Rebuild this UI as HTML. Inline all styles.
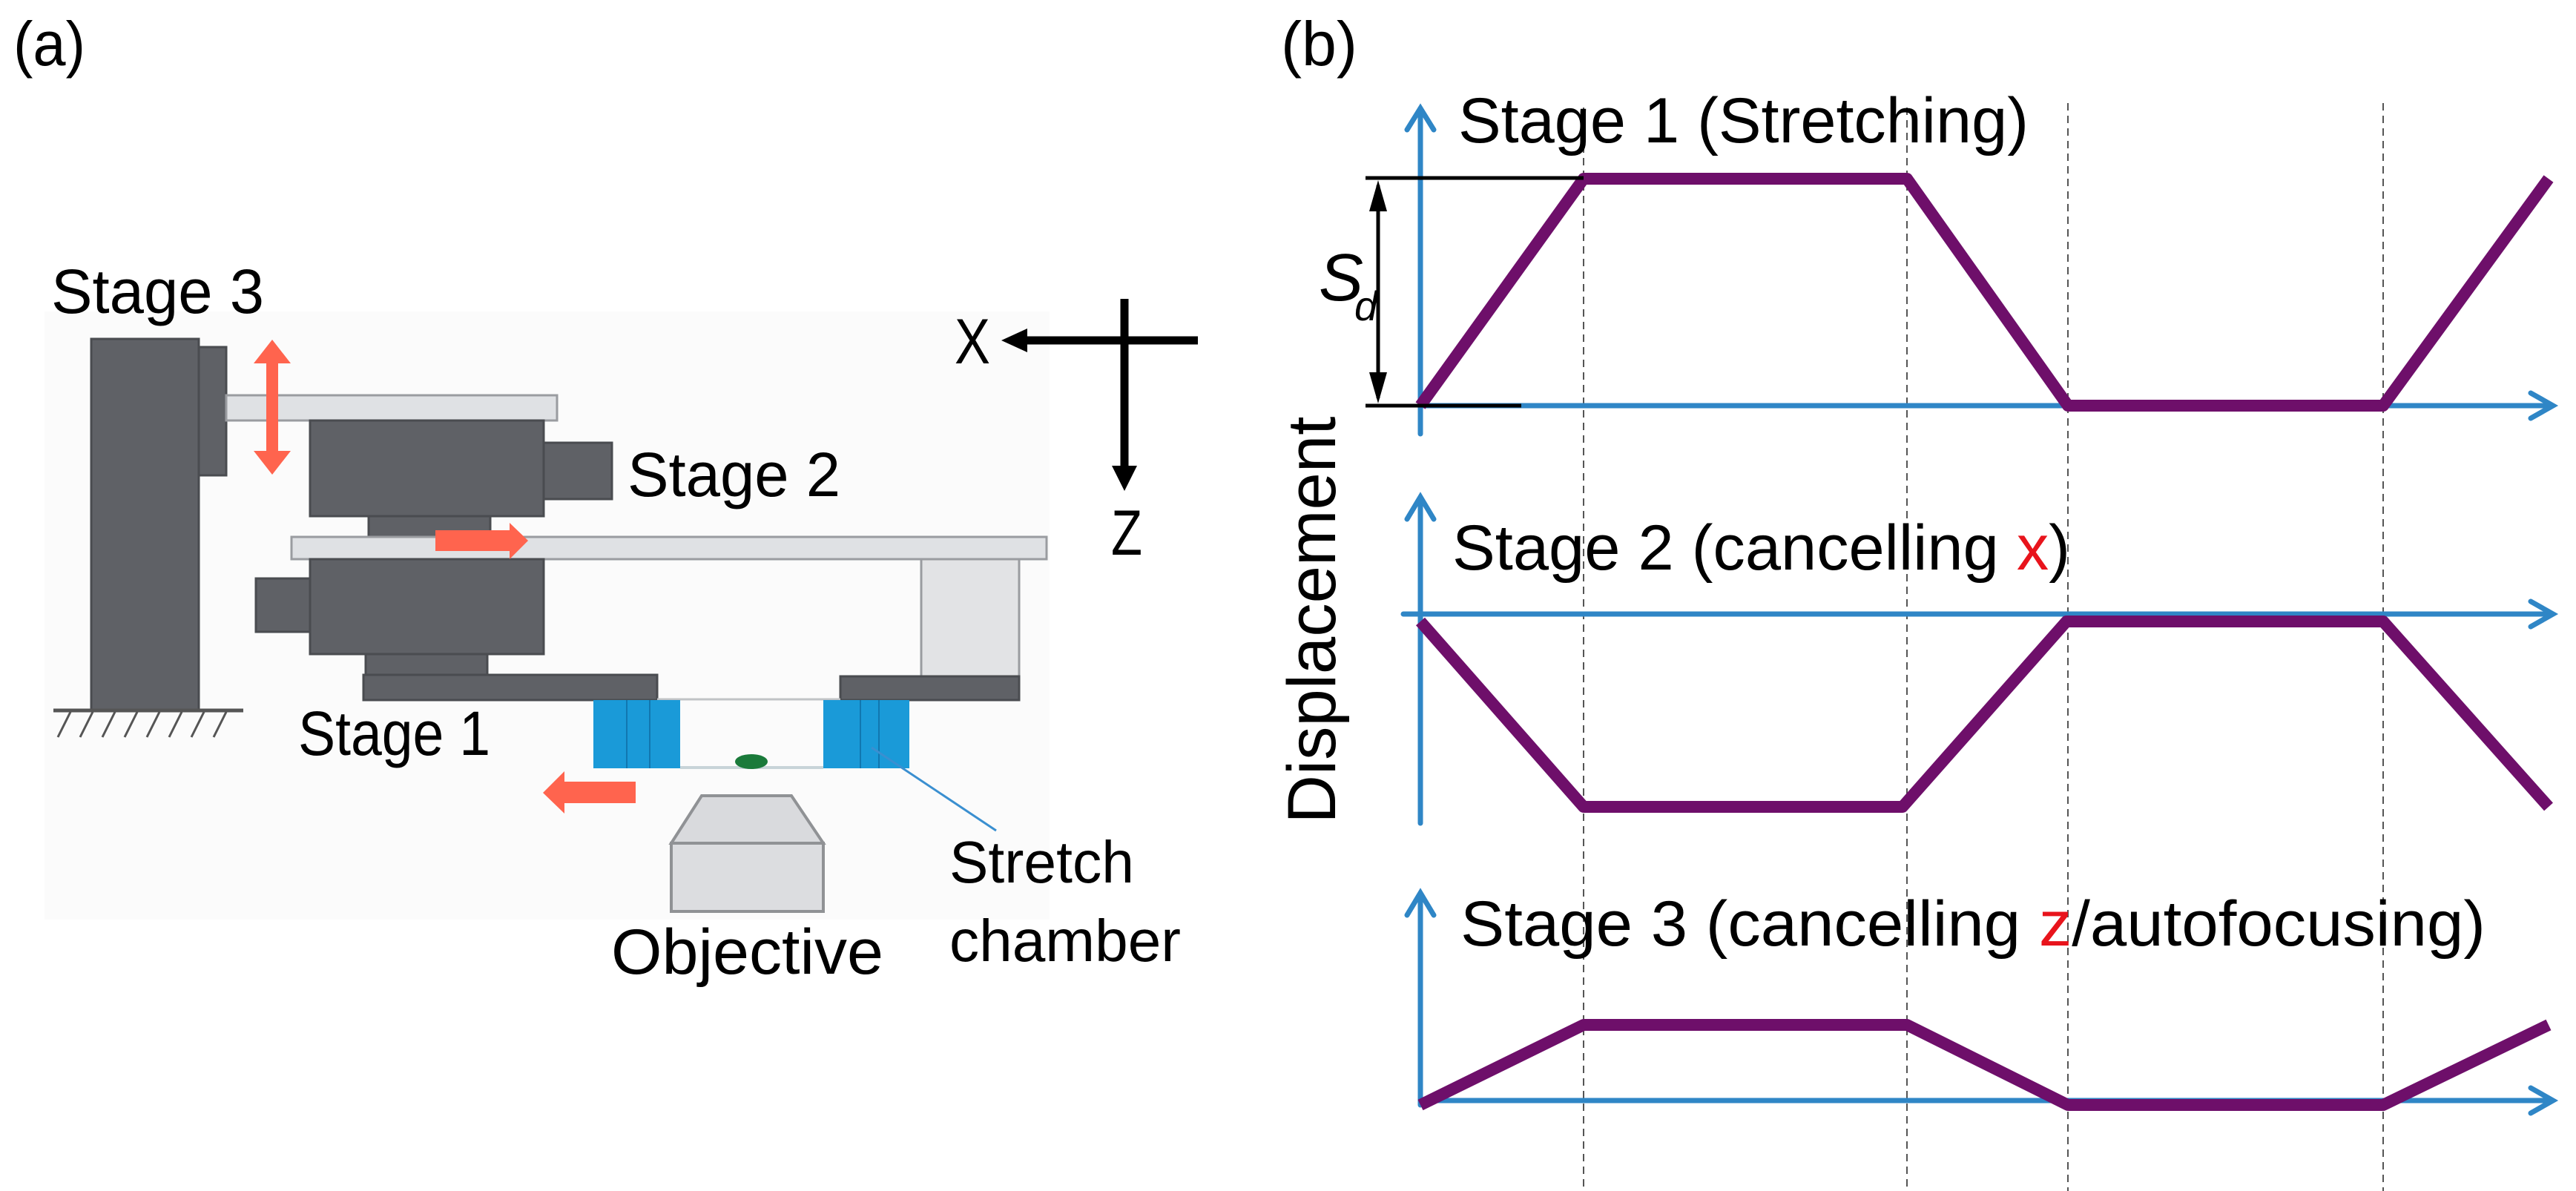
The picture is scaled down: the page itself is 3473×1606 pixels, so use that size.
<!DOCTYPE html>
<html><head><meta charset="utf-8"><style>html,body{margin:0;padding:0;background:#fff}svg{display:block}</style></head>
<body>
<svg width="3473" height="1606" viewBox="0 0 3473 1606" xmlns="http://www.w3.org/2000/svg" font-family="'Liberation Sans', sans-serif">
<rect width="3473" height="1606" fill="#fff"/>
<!-- faint background of panel a -->
<rect x="60" y="420" width="1355" height="820" fill="#fbfbfb"/>
<!-- labels a, b -->
<text x="18" y="88" font-size="84" textLength="97" lengthAdjust="spacingAndGlyphs">(a)</text>
<text x="1727" y="88" font-size="84" textLength="103" lengthAdjust="spacingAndGlyphs">(b)</text>

<!-- Panel a mechanism -->
<g stroke="#4a4c50" stroke-width="3">
<rect x="123" y="457" width="145" height="500" fill="#5f6166"/>
<rect x="268" y="468" width="37" height="173" fill="#5f6166"/>
<rect x="305" y="533" width="446" height="34" fill="#dfe1e4" stroke="#9a9ca0"/>
<rect x="418" y="567" width="315" height="129" fill="#5f6166"/>
<rect x="733" y="597" width="92" height="76" fill="#5f6166"/>
<rect x="497" y="696" width="164" height="28" fill="#5f6166"/>
<rect x="393" y="724" width="1018" height="30" fill="#dfe1e4" stroke="#9a9ca0"/>
<rect x="418" y="754" width="315" height="128" fill="#5f6166"/>
<rect x="345" y="780" width="73" height="72" fill="#5f6166"/>
<rect x="493" y="882" width="164" height="28" fill="#5f6166"/>
<rect x="490" y="910" width="396" height="34" fill="#5f6166"/>
<rect x="1242" y="754" width="132" height="158" fill="#e2e3e5" stroke="#9a9ca0"/>
<rect x="1133" y="912" width="241" height="32" fill="#5f6166"/>
</g>
<line x1="886" y1="943" x2="1133" y2="943" stroke="#c0c3c6" stroke-width="3"/>
<!-- ground -->
<line x1="72" y1="958" x2="328" y2="958" stroke="#555" stroke-width="5"/>
<g stroke="#555" stroke-width="3">
<line x1="95" y1="960" x2="78" y2="994"/><line x1="125" y1="960" x2="108" y2="994"/><line x1="155" y1="960" x2="138" y2="994"/><line x1="185" y1="960" x2="168" y2="994"/><line x1="215" y1="960" x2="198" y2="994"/><line x1="245" y1="960" x2="228" y2="994"/><line x1="275" y1="960" x2="258" y2="994"/><line x1="305" y1="960" x2="288" y2="994"/>
</g>
<!-- stretch chamber -->
<rect x="800" y="944" width="117" height="92" fill="#1a9ad8"/>
<rect x="1110" y="944" width="116" height="92" fill="#1a9ad8"/>
<g stroke="#1177b0" stroke-width="2"><line x1="845" y1="944" x2="845" y2="1036"/><line x1="876" y1="944" x2="876" y2="1036"/><line x1="1160" y1="944" x2="1160" y2="1036"/><line x1="1185" y1="944" x2="1185" y2="1036"/></g>
<line x1="917" y1="1035" x2="1110" y2="1035" stroke="#c8d4d8" stroke-width="4"/>
<ellipse cx="1013" cy="1027" rx="22" ry="10" fill="#1a7a3a"/>
<line x1="1175" y1="1008" x2="1343" y2="1120" stroke="#3a8fd0" stroke-width="3"/>
<!-- objective -->
<polygon points="946,1073 1067,1073 1110,1137 905,1137" fill="#d9dadd" stroke="#909295" stroke-width="4"/>
<rect x="905" y="1137" width="205" height="92" fill="#dcdde0" stroke="#909295" stroke-width="4"/>
<!-- red arrows -->
<g fill="#ff644e">
<polygon points="367,458 392,490 375,490 375,608 392,608 367,640 342,608 359,608 359,490 342,490"/>
<polygon points="587,715 687,715 687,705 712,729 687,754 687,743 587,743"/>
<polygon points="732,1069 761,1040 761,1054 857,1054 857,1083 761,1083 761,1097"/>
</g>
<!-- XZ axes -->
<line x1="1372" y1="459" x2="1615" y2="459" stroke="#000" stroke-width="11"/>
<polygon points="1350,459 1385,443 1385,475" fill="#000"/>
<line x1="1516" y1="403" x2="1516" y2="640" stroke="#000" stroke-width="11"/>
<polygon points="1516,662 1499,628 1533,628" fill="#000"/>
<text x="1287" y="490" font-size="86" textLength="48" lengthAdjust="spacingAndGlyphs">X</text>
<text x="1498" y="748" font-size="86" textLength="42" lengthAdjust="spacingAndGlyphs">Z</text>
<!-- panel a labels -->
<text x="69" y="422" font-size="84" textLength="287" lengthAdjust="spacingAndGlyphs">Stage 3</text>
<text x="846" y="669" font-size="84" textLength="287" lengthAdjust="spacingAndGlyphs">Stage 2</text>
<text x="402" y="1018" font-size="84" textLength="259" lengthAdjust="spacingAndGlyphs">Stage 1</text>
<text x="824" y="1313" font-size="86" textLength="367" lengthAdjust="spacingAndGlyphs">Objective</text>
<text x="1280" y="1190" font-size="80" textLength="249" lengthAdjust="spacingAndGlyphs">Stretch</text>
<text x="1280" y="1296" font-size="80" textLength="312" lengthAdjust="spacingAndGlyphs">chamber</text>

<!-- Panel b -->
<g stroke="#555" stroke-width="2" stroke-dasharray="10,7">
<line x1="2135" y1="145" x2="2135" y2="1606"/>
<line x1="2571" y1="145" x2="2571" y2="1606"/>
<line x1="2788" y1="139" x2="2788" y2="1606"/>
<line x1="3213" y1="139" x2="3213" y2="1606"/>
</g>
<g stroke="#2f86c6" stroke-width="7" fill="none" stroke-linecap="round">
<!-- graph 1 -->
<line x1="1915" y1="150" x2="1915" y2="585"/>
<polyline points="1897,175 1915,146 1933,175"/>
<line x1="1915" y1="547" x2="3440" y2="547"/>
<polyline points="3412,530 3442,547 3412,564"/>
<!-- graph 2 -->
<line x1="1915" y1="672" x2="1915" y2="1110"/>
<polyline points="1897,700 1915,670 1933,700"/>
<line x1="1892" y1="828" x2="3440" y2="828"/>
<polyline points="3412,811 3442,828 3412,845"/>
<!-- graph 3 -->
<line x1="1915" y1="1205" x2="1915" y2="1490"/>
<polyline points="1897,1234 1915,1204 1933,1234"/>
<line x1="1915" y1="1484" x2="3440" y2="1484"/>
<polyline points="3412,1467 3442,1484 3412,1501"/>
</g>
<g stroke="#6e0f6a" stroke-width="16" fill="none" stroke-linejoin="round">
<polyline points="1915,547 2135,241 2571,241 2788,547 3213,547 3436,241"/>
<polyline points="1915,838 2135,1088 2565,1088 2786,838 3213,838 3436,1088"/>
<polyline points="1915,1490 2135,1382 2571,1382 2788,1490 3213,1490 3436,1382"/>
</g>
<!-- S_d dimension -->
<g stroke="#000" stroke-width="5">
<line x1="1841" y1="240" x2="2135" y2="240"/>
<line x1="1841" y1="547" x2="2051" y2="547"/>
<line x1="1858" y1="250" x2="1858" y2="537"/>
</g>
<polygon points="1858,243 1846,285 1870,285" fill="#000"/>
<polygon points="1858,544 1846,502 1870,502" fill="#000"/>
<text x="1778" y="405" font-size="90" font-style="italic">S</text>
<text x="1826" y="432" font-size="56" font-style="italic">d</text>
<!-- Displacement -->
<text transform="translate(1800,836) rotate(-90)" x="0" y="0" text-anchor="middle" font-size="92" textLength="549" lengthAdjust="spacingAndGlyphs">Displacement</text>
<!-- graph titles -->
<text x="1966" y="192" font-size="86" textLength="769" lengthAdjust="spacingAndGlyphs">Stage 1 (Stretching)</text>
<text x="1958" y="768" font-size="86" textLength="833" lengthAdjust="spacingAndGlyphs">Stage 2 (cancelling <tspan fill="#e8141c">x</tspan>)</text>
<text x="1969" y="1275" font-size="86" textLength="1382" lengthAdjust="spacingAndGlyphs">Stage 3 (cancelling <tspan fill="#e8141c">z</tspan>/autofocusing)</text>
</svg>
</body></html>
